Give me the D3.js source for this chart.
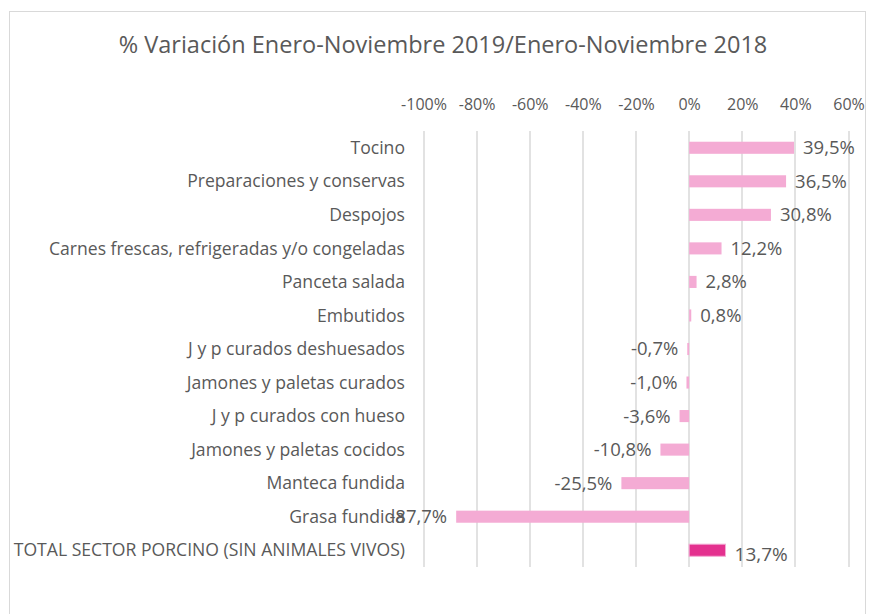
<!DOCTYPE html>
<html>
<head>
<meta charset="utf-8">
<script src="https://cdn.jsdelivr.net/npm/d3@7"></script>
<style>
  body { margin: 0; background: #fff; }
  text { font-family: "Open Sans", Lato, sans-serif; fill: #595959; }
</style>
</head>
<body>
<div id="chart"></div>
<script>
// chart data
const categories = [
    "Tocino",
    "Preparaciones y conservas",
    "Despojos",
    "Carnes frescas, refrigeradas y/o congeladas",
    "Panceta salada",
    "Embutidos",
    "J y p curados deshuesados",
    "Jamones y paletas curados",
    "J y p curados con hueso",
    "Jamones y paletas cocidos",
    "Manteca fundida",
    "Grasa fundida",
    "TOTAL SECTOR PORCINO (SIN ANIMALES VIVOS)"
];
const values = [39.5, 36.5, 30.8, 12.2, 2.8, 0.8, -0.7, -1.0, -3.6, -10.8, -25.5, -87.7, 13.7];
const tickValues = [-100, -80, -60, -40, -20, 0, 20, 40, 60];
const title = "% Variación Enero-Noviembre 2019/Enero-Noviembre 2018";

const width = 869, height = 614;
const margin = { top: 131, right: 20.5, bottom: 47, left: 423.5 };

const svg = d3.select("#chart")
    .append("svg")
    .attr("width", width)
    .attr("height", height);

// outer frame
svg.append("rect")
    .attr("x", 9.5).attr("y", 11.5)
    .attr("width", 856).attr("height", 620)
    .attr("fill", "none")
    .attr("stroke", "#d9d9d9");

svg.append("text")
    .attr("x", 443)
    .attr("y", 53)
    .attr("text-anchor", "middle")
    .attr("font-size", "23.5px")
    .text(title);

let xScale = d3.scaleLinear()
    .domain([-100, 60])
    .range([margin.left, width - margin.right]);

let yScale = d3.scaleBand()
    .domain(categories)
    .range([margin.top, height - margin.bottom])
    .paddingInner(0.64)
    .paddingOuter(0.32);

// gridlines
svg.append("g")
    .selectAll("line")
    .data(tickValues)
    .enter()
    .append("line")
    .attr("x1", d => Math.round(xScale(d)))
    .attr("x2", d => Math.round(xScale(d)))
    .attr("y1", margin.top)
    .attr("y2", height - margin.bottom)
    .attr("stroke", "#d9d9d9")
    .attr("stroke-width", 1.5);

// top axis labels
const xAxis = svg.append("g")
    .attr("transform", `translate(0, ${margin.top - 18})`)
    .call(d3.axisTop(xScale).tickValues(tickValues).tickSize(0).tickFormat(d => d + "%"));
xAxis.select(".domain").remove();
xAxis.selectAll("text").attr("font-size", "16px").attr("fill", "#595959")
    .style("font-family", "'Open Sans', Lato, sans-serif");

// category labels
svg.append("g")
    .selectAll("text")
    .data(categories)
    .enter()
    .append("text")
    .attr("x", 405)
    .attr("y", d => yScale(d) + yScale.bandwidth() / 2)
    .attr("dy", "0.35em")
    .attr("text-anchor", "end")
    .attr("font-size", "17.6px")
    .text(d => d);

// bars
svg.append("g")
    .selectAll("rect")
    .data(values)
    .enter()
    .append("rect")
    .attr("x", d => xScale(Math.min(0, d)))
    .attr("y", (d, i) => yScale(categories[i]))
    .attr("width", d => Math.abs(xScale(d) - xScale(0)))
    .attr("height", yScale.bandwidth())
    .attr("fill", (d, i) => i === values.length - 1 ? "#e4318f" : "#f4abd4")
    .attr("stroke", (d, i) => i === values.length - 1 ? "#f4abd4" : "none")
    .attr("stroke-width", 1);

// value labels
const fmt = v => v.toFixed(1).replace(".", ",") + "%";
svg.append("g")
    .selectAll("text")
    .data(values)
    .enter()
    .append("text")
    .attr("x", d => d >= 0 ? xScale(d) + 9 : xScale(d) - 9)
    .attr("y", (d, i) => yScale(categories[i]) + yScale.bandwidth() / 2 + (i === values.length - 1 ? 4 : 0))
    .attr("dy", "0.35em")
    .attr("text-anchor", d => d >= 0 ? "start" : "end")
    .attr("font-size", (d, i) => i === values.length - 1 ? "19px" : "18.5px")
    .text(d => fmt(d));
</script>
</body>
</html>
